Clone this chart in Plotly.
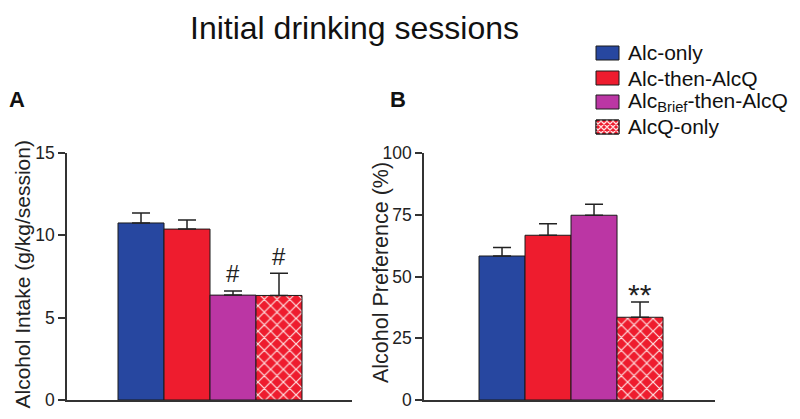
import plotly.graph_objects as go

groups = ["Alc-only", "Alc-then-AlcQ", "Alc<sub>Brief</sub>-then-AlcQ", "AlcQ-only"]
colors = ["#2747a0", "#ee1c2e", "#bb36a4", "#ee1c2e"]
intake_mean = [10.75, 10.38, 6.37, 6.35]
intake_sem = [0.6, 0.55, 0.25, 1.35]
pref_mean = [58.3, 66.7, 74.8, 33.5]
pref_sem = [3.4, 4.7, 4.5, 6.2]
intake_sig = ["", "", "#", "#"]
pref_sig = ["", "", "", "**"]

FONT = "Arial, Liberation Sans, sans-serif"
OFF = 8  # page body margin of the browser
W, H = 800 - OFF, 419 - OFF
fig = go.Figure()

def px_x(p):
    return (p - OFF) / W

def px_y(p):
    return 1 - (p - OFF) / H

def add_bars(means, sems, xa, ya):
    for i, (g, c, m, s) in enumerate(zip(groups, colors, means, sems)):
        marker = dict(color=c, line=dict(color="#1a1a1a", width=1))
        if i == 3:
            marker["pattern"] = dict(shape="x", fgcolor="#ffe4e4", bgcolor=c,
                                     size=9, solidity=0.25, fillmode="replace")
        fig.add_trace(go.Bar(
            x=[i], y=[m], name=g, marker=marker, width=1, xaxis=xa, yaxis=ya,
            showlegend=False,
            error_y=dict(type="data", symmetric=False, array=[s], arrayminus=[0],
                         color="#222", thickness=1.5, width=9),
        ))

add_bars(intake_mean, intake_sem, "x", "y")
add_bars(pref_mean, pref_sem, "x2", "y2")

ydom = [px_y(400), px_y(153)]
axis_common = dict(showgrid=False, zeroline=False, showline=True, linecolor="#333",
                   linewidth=1.5, tickfont=dict(family=FONT, size=17.5, color="#222"))
fig.update_layout(
    width=W, height=H, margin=dict(l=0, r=0, t=0, b=0, autoexpand=False),
    paper_bgcolor="white", plot_bgcolor="white", barmode="overlay",
    font=dict(family=FONT, color="#222"), showlegend=False,
    xaxis=dict(domain=[px_x(67), px_x(352)], range=[-1.609, 4.587], showticklabels=False,
               ticks="", anchor="y", **axis_common),
    yaxis=dict(domain=ydom, range=[0, 15], tickvals=[0, 5, 10, 15], ticks="outside",
               ticklen=7, tickwidth=1.5, tickcolor="#333", anchor="x", **axis_common),
    xaxis2=dict(domain=[px_x(424), px_x(715)], range=[-1.696, 4.63], showticklabels=False,
                ticks="", anchor="y2", **axis_common),
    yaxis2=dict(domain=ydom, range=[0, 100], tickvals=[0, 25, 50, 75, 100], ticks="outside",
                ticklen=7, tickwidth=1.5, tickcolor="#333", anchor="x2", **axis_common),
)

ann = []
shapes = []
ann.append(dict(text="Initial drinking sessions", x=px_x(354), y=px_y(8), xref="paper",
                yref="paper", xanchor="center", yanchor="top", showarrow=False,
                font=dict(family=FONT, size=32, color="#111")))
ann.append(dict(text="<b>A</b>", x=px_x(17), y=px_y(100), xref="paper", yref="paper",
                xanchor="center", yanchor="middle", showarrow=False,
                font=dict(family=FONT, size=22, color="#111")))
ann.append(dict(text="<b>B</b>", x=px_x(398), y=px_y(100), xref="paper", yref="paper",
                xanchor="center", yanchor="middle", showarrow=False,
                font=dict(family=FONT, size=22, color="#111")))
ann.append(dict(text="Alcohol Intake (g/kg/session)", x=px_x(8), y=px_y(275), xref="paper",
                yref="paper", xanchor="left", yanchor="middle", textangle=-90, showarrow=False,
                font=dict(family=FONT, size=21, color="#222")))
ann.append(dict(text="Alcohol Preference (%)", x=px_x(381), y=px_y(273), xref="paper",
                yref="paper", xanchor="center", yanchor="middle", textangle=-90, showarrow=False,
                font=dict(family=FONT, size=21.5, color="#222")))
for i, (m, s, t) in enumerate(zip(intake_mean, intake_sem, intake_sig)):
    if t:
        ann.append(dict(text=t, x=i, y=m + s, xref="x", yref="y", yanchor="middle", yshift=17,
                        showarrow=False, font=dict(family=FONT, size=24, color="#222")))
for i, (m, s, t) in enumerate(zip(pref_mean, pref_sem, pref_sig)):
    if t:
        ann.append(dict(text=t, x=i, y=m + s, xref="x2", yref="y2", yanchor="middle", yshift=7,
                        showarrow=False, font=dict(family=FONT, size=30, color="#222")))

# custom legend
legend_rows = [53, 78, 102, 127]
bx0, bx1, bh = 596, 619, 14
for i, (g, c, ry) in enumerate(zip(groups, colors, legend_rows)):
    y0, y1 = ry - bh / 2, ry + bh / 2
    shapes.append(dict(type="rect", xref="paper", yref="paper", x0=px_x(bx0), x1=px_x(bx1),
                       y0=px_y(y1), y1=px_y(y0), fillcolor=c,
                       line=dict(color="#1a1a1a", width=1), layer="above"))
    if i == 3:
        path = []
        step = 6
        for k in range(-bh, (bx1 - bx0) + bh, step):
            for sgn in (1, -1):
                xa, ya = bx0 + k, y0 if sgn == 1 else y1
                xb, yb = xa + bh, y1 if sgn == 1 else y0
                if xa < bx0:
                    d = bx0 - xa
                    xa = bx0
                    ya = ya + d if sgn == 1 else ya - d
                if xb > bx1:
                    d = xb - bx1
                    xb = bx1
                    yb = yb - d if sgn == 1 else yb + d
                if xb <= xa:
                    continue
                path.append(f"M{px_x(xa)},{px_y(ya)}L{px_x(xb)},{px_y(yb)}")
        shapes.append(dict(type="path", xref="paper", yref="paper", path="".join(path),
                           line=dict(color="#ffe4e4", width=1.3), layer="above"))
        shapes.append(dict(type="rect", xref="paper", yref="paper", x0=px_x(bx0), x1=px_x(bx1),
                           y0=px_y(y1), y1=px_y(y0), line=dict(color="#1a1a1a", width=1),
                           layer="above"))
    ann.append(dict(text=g, x=px_x(626), y=px_y(ry), xref="paper", yref="paper",
                    xanchor="left", yanchor="middle", showarrow=False,
                    font=dict(family=FONT, size=21, color="#111")))

fig.update_layout(annotations=ann, shapes=shapes)
fig.write_html("out.html")
